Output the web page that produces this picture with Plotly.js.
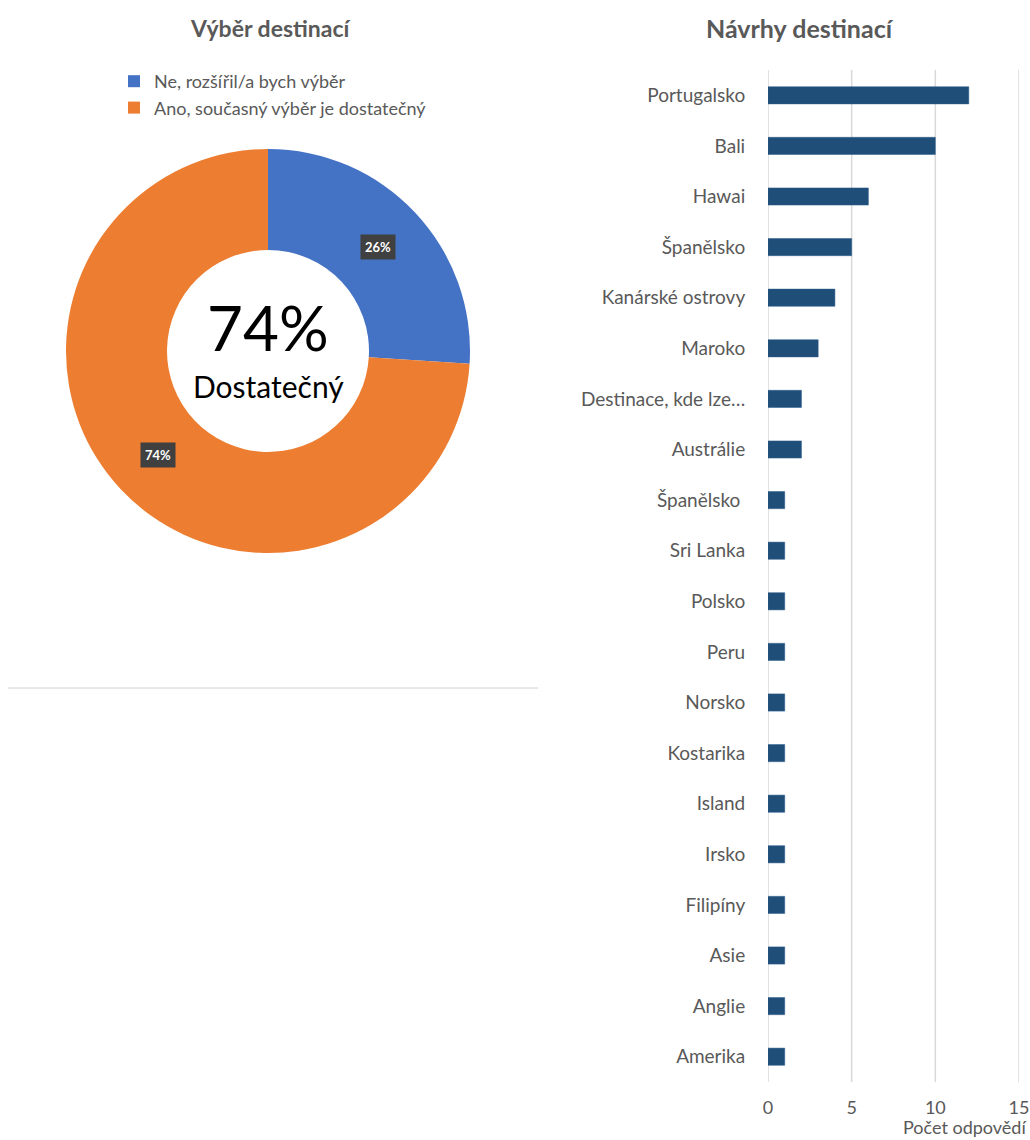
<!DOCTYPE html>
<html>
<head>
<meta charset="utf-8">
<script src="https://cdn.plot.ly/plotly-3.0.1.min.js"></script>
<style>html,body{margin:0;padding:0;background:#fff;}#chart{width:1030px;height:1140px;}</style>
</head>
<body>
<div id="chart"></div>
<script>
// ---- Data ----
const pieLabels = ["Ne, rozšířil/a bych výběr", "Ano, současný výběr je dostatečný"];
const pieValues = [26, 74];
const pieColors = ["#4472C4", "#ED7D31"];
const centerValue = "74%";
const centerLabel = "Dostatečný";

const destinations = ["Portugalsko", "Bali", "Hawai", "Španělsko", "Kanárské ostrovy", "Maroko",
  "Destinace, kde lze…", "Austrálie", "Španělsko\u00a0", "Sri Lanka", "Polsko", "Peru", "Norsko",
  "Kostarika", "Island", "Irsko", "Filipíny", "Asie", "Anglie", "Amerika"];
const counts = [12, 10, 6, 5, 4, 3, 2, 2, 1, 1, 1, 1, 1, 1, 1, 1, 1, 1, 1, 1];
const xTicks = [0, 5, 10, 15];

// ---- Layout helpers ----
const W = 1030, H = 1140;
const FONT = "Lato, 'Open Sans', sans-serif";
const GRAY = "#595959";
const px = x => x / W;
const py = y => 1 - y / H;

// pie geometry (px)
const pieL = 66, pieR = 470, pieT = 148, pieB = 554;
const pcx = (pieL + pieR) / 2, pcy = (pieT + pieB) / 2, pr = (pieR - pieL) / 2;
const hole = 0.5;

// slice label annotations computed from data
const total = pieValues.reduce((a, b) => a + b, 0);
let cum = 0;
const sliceAnn = pieValues.map(v => {
  const mid = (cum + v / 2) / total * 2 * Math.PI;
  cum += v;
  const rr = pr * (1 + hole) / 2;
  const x = pcx + rr * Math.sin(mid);
  const y = pcy - rr * Math.cos(mid);
  return {
    xref: "paper", yref: "paper", x: px(x), y: py(y), xanchor: "center", yanchor: "middle",
    text: "<b>" + Math.round(v / total * 100) + "%</b>", showarrow: false,
    font: {family: FONT, size: 13, color: "#ffffff"}, bgcolor: "#404040", borderpad: 4
  };
});

// bar plot area (px)
const barT = 70, barB = 1082;

// vertical gridlines at every tick, drawn in data coordinates
const gridShapes = xTicks.map(t => ({
  type: "line", xref: "x", yref: "paper", x0: t, x1: t, y0: py(barB), y1: py(barT),
  layer: "below", line: {color: "#d9d9d9", width: 1.5}
}));

const data = [
  {
    type: "pie", labels: pieLabels, values: pieValues, hole: hole, sort: false,
    direction: "clockwise", rotation: 0,
    marker: {colors: pieColors, line: {color: "#ffffff", width: 0}},
    textinfo: "none", hoverinfo: "label+percent",
    domain: {x: [px(pieL), px(pieR)], y: [py(pieB), py(pieT)]}
  },
  {
    type: "bar", orientation: "h", y: destinations, x: counts,
    marker: {color: "#1F4E79", line: {color: "#2f5f8c", width: 0.5}},
    xaxis: "x", yaxis: "y", showlegend: false, hoverinfo: "x+y"
  }
];

const layout = {
  width: W, height: H,
  margin: {l: 0, r: 0, t: 0, b: 0},
  paper_bgcolor: "#ffffff", plot_bgcolor: "rgba(0,0,0,0)",
  font: {family: FONT, color: GRAY},
  showlegend: true,
  legend: {
    x: px(114), y: py(63), xanchor: "left", yanchor: "top",
    font: {family: FONT, size: 18, color: GRAY},
    itemwidth: 30, tracegroupgap: 0, bgcolor: "rgba(0,0,0,0)"
  },
  xaxis: {
    domain: [px(768), px(1019)], range: [0, 15], tickvals: xTicks,
    showgrid: false, zeroline: false,
    showline: false, ticks: "outside", ticklen: 9, tickcolor: "rgba(0,0,0,0)",
    tickfont: {family: FONT, size: 18, color: GRAY}, anchor: "y", fixedrange: true
  },
  yaxis: {
    domain: [py(barB), py(barT)], type: "category", autorange: "reversed",
    categoryorder: "array", categoryarray: destinations,
    showgrid: false, zeroline: false, showline: false,
    ticks: "outside", ticklen: 18, tickcolor: "rgba(0,0,0,0)",
    tickfont: {family: FONT, size: 19, color: GRAY}, anchor: "x", fixedrange: true
  },
  bargap: 0.66,
  shapes: [
    {type: "line", xref: "paper", yref: "paper", x0: px(8), x1: px(538), y0: py(688), y1: py(688),
     line: {color: "#d0d0d0", width: 1}}
  ].concat(gridShapes),
  annotations: [
    {xref: "paper", yref: "paper", x: px(270), y: py(28), xanchor: "center", yanchor: "middle",
     text: "<b>Výběr destinací</b>", showarrow: false, font: {family: FONT, size: 23, color: GRAY}},
    {xref: "paper", yref: "paper", x: px(800), y: py(28), xanchor: "center", yanchor: "middle",
     text: "<b>Návrhy destinací</b>", showarrow: false, font: {family: FONT, size: 25, color: GRAY}},
    {xref: "paper", yref: "paper", x: px(pcx), y: py(327), xanchor: "center", yanchor: "middle",
     text: centerValue, showarrow: false, font: {family: FONT, size: 62, color: "#000000"}},
    {xref: "paper", yref: "paper", x: px(pcx), y: py(386), xanchor: "center", yanchor: "middle",
     text: centerLabel, showarrow: false, font: {family: FONT, size: 30, color: "#000000"}},
    {xref: "paper", yref: "paper", x: px(1028), y: py(1127), xanchor: "right", yanchor: "middle",
     text: "Počet odpovědí", showarrow: false, font: {family: FONT, size: 18, color: GRAY}}
  ].concat(sliceAnn)
};

Plotly.newPlot("chart", data, layout, {staticPlot: true, displayModeBar: false});
</script>
</body>
</html>
